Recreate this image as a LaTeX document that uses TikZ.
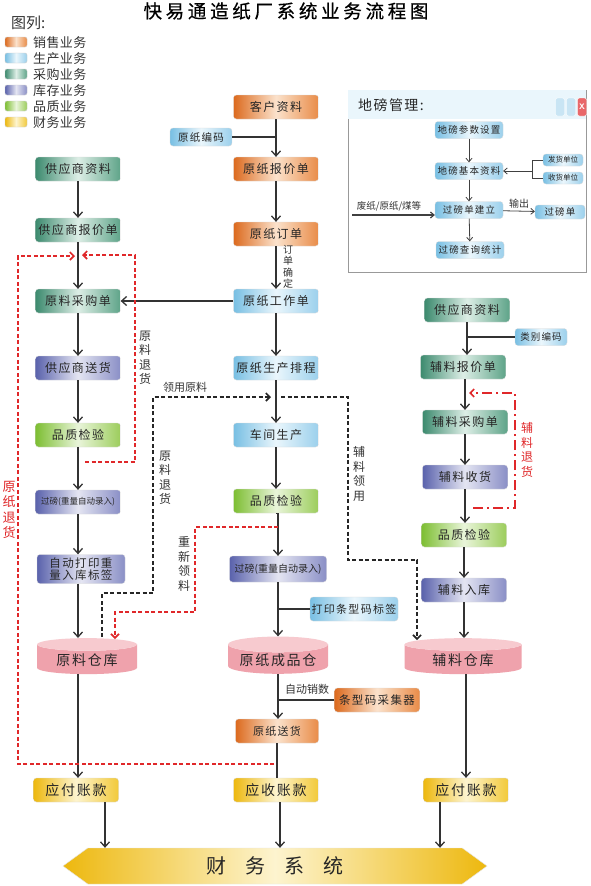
\documentclass[tikz,border=0pt]{standalone}
\usepackage{fontspec}
\newfontfamily\cjk[LetterSpace=12]{Noto Sans CJK SC}
\newfontfamily\cjkn{Noto Sans CJK SC}
\usetikzlibrary{arrows.meta,shapes.geometric,shapes.symbols}
\definecolor{SaleD}{HTML}{DC6A1E}\definecolor{SaleL}{HTML}{FBE2CC}\definecolor{SaleR}{HTML}{E98C48}
\definecolor{ProdD}{HTML}{78BFE3}\definecolor{ProdL}{HTML}{EAF6FC}\definecolor{ProdR}{HTML}{9BD0EC}
\definecolor{PurD}{HTML}{3C8A6E}\definecolor{PurL}{HTML}{DDEEE6}\definecolor{PurR}{HTML}{5FA489}
\definecolor{InvD}{HTML}{5A62AC}\definecolor{InvL}{HTML}{E4E5F2}\definecolor{InvR}{HTML}{8A8FC6}
\definecolor{QuaD}{HTML}{7DBE32}\definecolor{QuaL}{HTML}{E9F5DA}\definecolor{QuaR}{HTML}{9CCD5C}
\definecolor{FinD}{HTML}{EDB80E}\definecolor{FinL}{HTML}{FDF4CF}\definecolor{FinR}{HTML}{F2C93A}
\definecolor{CylB}{HTML}{EFA2AC}\definecolor{CylT}{HTML}{F7CACF}
\definecolor{RedL}{HTML}{E0282A}
\tikzset{
  box/.style={rounded corners=3pt, minimum width=85pt, minimum height=24pt, inner sep=1pt,
    text=black!85, font=\cjk\fontsize{12}{12}\selectfont, draw=black!15, line width=0.3pt},
  sale/.style={box, left color=SaleD, right color=SaleR, middle color=SaleL},
  prod/.style={box, left color=ProdD, right color=ProdR, middle color=ProdL},
  pur/.style={box, left color=PurD, right color=PurR, middle color=PurL},
  inv/.style={box, left color=InvD, right color=InvR, middle color=InvL},
  qua/.style={box, left color=QuaD, right color=QuaR, middle color=QuaL},
  fin/.style={box, left color=FinD, right color=FinR, middle color=FinL, font=\cjk\fontsize{14}{14}\selectfont},
  sm/.style={prod, minimum width=68pt, minimum height=17pt, font=\cjk\fontsize{9.5}{10}\selectfont},
  tiny/.style={prod, minimum width=40pt, minimum height=12pt, font=\cjkn\fontsize{7.5}{8}\selectfont},
  cyl/.style={cylinder, shape border rotate=90, aspect=0.2, minimum width=100pt, minimum height=36pt,
    cylinder uses custom fill, cylinder body fill=CylB, cylinder end fill=CylT, draw=none,
    text=black!85, font=\cjk\fontsize{14}{14}\selectfont, inner sep=1pt},
  swatch/.style={rounded corners=2pt, minimum width=22pt, minimum height=10pt, inner sep=0pt, draw=black!20},
  legtxt/.style={anchor=west, font=\cjkn\fontsize{13}{13}\selectfont\addfontfeatures{LetterSpace=3}, text=black!80, inner sep=0pt},
  vlab/.style={align=center, inner sep=0pt, font=\cjkn\fontsize{12}{14.5}\selectfont, text=black!80},
  lbl/.style={inner sep=0pt, font=\cjkn\fontsize{11}{11}\selectfont, text=black!80},
  arr/.style={draw=black!80, line width=1.3pt, -{Straight Barb[length=5pt,width=9pt]}},
  lin/.style={draw=black!80, line width=1.3pt},
  thin/.style={draw=black!75, line width=0.8pt},
  thinarr/.style={draw=black!75, line width=0.8pt, -{Straight Barb[length=3.5pt,width=6pt]}},
  rdash/.style={draw=RedL, line width=1.6pt, dash pattern=on 4pt off 2.5pt},
  kdash/.style={draw=black!85, line width=1.6pt, dash pattern=on 4pt off 2.5pt},
  rdd/.style={draw=RedL, line width=1.6pt, dash pattern=on 10pt off 4pt on 2pt off 4pt},
  dtip/.style={-{Straight Barb[length=4pt,width=8pt]}}
}
\begin{document}
\begin{tikzpicture}[x=1pt,y=-1pt]
\useasboundingbox (0,0) rectangle (591,886);
\fill[white] (0,0) rectangle (591,886);
% title
\node[inner sep=0pt, font=\cjkn\fontsize{18.5}{18.5}\selectfont\addfontfeatures{LetterSpace=20,FakeBold=0.5}] (title) at (286,11) {快易通造纸厂系统业务流程图};
% legend
\node[anchor=west, inner sep=0pt, font=\cjkn\fontsize{15}{15}\selectfont, text=black!80] (legt) at (11,23) {图列:};
\node[swatch, left color=SaleD, right color=SaleR, middle color=SaleL] (s1) at (16,42) {};
\node[swatch, left color=ProdD, right color=ProdR, middle color=ProdL] (s2) at (16,58) {};
\node[swatch, left color=PurD, right color=PurR, middle color=PurL] (s3) at (16,74) {};
\node[swatch, left color=InvD, right color=InvR, middle color=InvL] (s4) at (16,90) {};
\node[swatch, left color=QuaD, right color=QuaR, middle color=QuaL] (s5) at (16,106) {};
\node[swatch, left color=FinD, right color=FinR, middle color=FinL] (s6) at (16,122) {};
\node[legtxt] (l1) at (33,43) {销售业务};
\node[legtxt] (l2) at (33,59) {生产业务};
\node[legtxt] (l3) at (33,75) {采购业务};
\node[legtxt] (l4) at (33,91) {库存业务};
\node[legtxt] (l5) at (33,107) {品质业务};
\node[legtxt] (l6) at (33,123) {财务业务};

% weighbridge box
\draw[black!40, line width=0.6pt, fill=white] (348,90) rectangle (586,272);
\fill[ProdL] (348.3,90.3) rectangle (585.7,119);
\node[anchor=west, inner sep=0pt, font=\cjkn\fontsize{14}{14}\selectfont\addfontfeatures{LetterSpace=10}, text=black!85] (dbt) at (358,105) {地磅管理:};
\node[rounded corners=2pt, fill=ProdD!40, draw=white, minimum width=9pt, minimum height=18pt, inner sep=0pt] (w1) at (560,107) {};
\node[rounded corners=2pt, fill=ProdD!40, draw=white, minimum width=9pt, minimum height=18pt, inner sep=0pt] (w2) at (571,107) {};
\node[rounded corners=2pt, fill=RedL!70, draw=white, minimum width=9pt, minimum height=18pt, inner sep=0pt, text=white, font=\sffamily\bfseries\fontsize{8}{8}\selectfont] (w3) at (582,107) {X};
\node[sm] (dbcs) at (469,130) {地磅参数设置};
\node[sm] (dbjb) at (469,171) {地磅基本资料};
\node[tiny] (fhdw) at (563,160) {发货单位};
\node[tiny] (shdw) at (563,178) {收货单位};
\node[sm] (gbdjl) at (469,210) {过磅单建立};
\node[sm, minimum width=50pt, minimum height=14pt] (gbd) at (560,212) {过磅单};
\node[sm] (gbcx) at (470,250) {过磅查询统计};
\coordinate (feiz) at (352,215);
\coordinate (brk) at (532,171);
\node[lbl, font=\cjkn\fontsize{9.5}{10}\selectfont] (fzl) at (389,206) {废纸/原纸/煤等};
\node[lbl, font=\cjkn\fontsize{10}{10}\selectfont] (scl) at (519,204) {输出};
\draw[thinarr] (dbcs) -- (dbjb);
\draw[thinarr] (dbjb) -- (gbdjl);
\draw[thinarr] (gbdjl) -- (gbcx);
\draw[thinarr] (gbdjl) -- (gbd);
\draw[thinarr, line width=1.2pt] (feiz) -- (feiz -| gbdjl.west);
\draw[thin] (fhdw.west) -- (brk |- fhdw.west) -- (brk |- shdw.west) -- (shdw.west);
\draw[thinarr] (brk) -- (dbjb.east);

% centre column
\node[sale] (khzl) at (276,107) {客户资料};
\node[prod, minimum width=62pt, minimum height=18pt, font=\cjk\fontsize{10.5}{10.5}\selectfont] (yzbm) at (201,137) {原纸编码};
\node[sale] (yzbjd) at (276,169) {原纸报价单};
\node[sale] (yzdd) at (276,234) {原纸订单};
\node[prod] (yzgzd) at (276,301) {原纸工作单};
\node[prod] (yzpc) at (276,368) {原纸生产排程};
\node[prod] (cjsc) at (276,435) {车间生产};
\node[qua] (pzjy2) at (276,501) {品质检验};
\node[inv, minimum width=97pt, minimum height=26pt, font=\cjkn\fontsize{10}{10}\selectfont] (gb2) at (278,569) {过磅(重量自动录入)};
\node[prod, minimum width=88pt, font=\cjk\fontsize{11}{11}\selectfont] (dytxm) at (354,609) {打印条型码标签};
\node[cyl] (yzcpc) at (278,660) {原纸成品仓};
\node[sale, font=\cjk\fontsize{11.5}{11.5}\selectfont] (txmcjq) at (377,700) {条型码采集器};
\node[sale, minimum width=83pt, font=\cjk\fontsize{11}{11}\selectfont] (yzsh) at (277,731) {原纸送货};
\node[fin] (yszk) at (276,790) {应收账款};
\node[signal, signal to=west and east, signal pointer angle=72, minimum width=424pt, minimum height=36pt, inner sep=0pt,
  left color=FinD, right color=FinD, middle color=FinL, draw=black!10,
  font=\cjkn\fontsize{20}{20}\selectfont\addfontfeatures{LetterSpace=95}, text=black!85] (cwxt) at (275,866) {财务系统\hspace{-19pt}};

% left column
\node[pur] (gyszl1) at (78,169) {供应商资料};
\node[pur] (gysbjd) at (78,230) {供应商报价单};
\node[pur] (ylcgd) at (78,301) {原料采购单};
\node[inv] (gyssh) at (78,368) {供应商送货};
\node[qua] (pzjy1) at (78,435) {品质检验};
\node[inv, font=\cjkn\fontsize{8.5}{8.5}\selectfont] (gb1) at (78,502) {过磅(重量自动录入)};
\node[inv, minimum width=88pt, minimum height=29pt, align=center, font=\cjk\fontsize{11.5}{12.5}\selectfont] (dydy) at (81,569) {自动打印重\\量入库标签};
\node[cyl] (ylck) at (87,660) {原料仓库};
\node[fin] (yfzk1) at (76,790) {应付账款};

% right column
\node[pur] (gyszl2) at (467,310) {供应商资料};
\node[prod, minimum width=52pt, minimum height=17pt, font=\cjk\fontsize{9.5}{9.5}\selectfont] (lbbm) at (541,337) {类别编码};
\node[pur] (flbjd) at (463,367) {辅料报价单};
\node[pur] (flcgd) at (465,422) {辅料采购单};
\node[inv] (flsh) at (465,477) {辅料收货};
\node[qua] (pzjy3) at (464,535) {品质检验};
\node[inv] (flrk) at (464,590) {辅料入库};
\node[cyl, minimum width=117pt] (flck) at (463,660) {辅料仓库};
\node[fin] (yfzk2) at (466,790) {应付账款};

% centre arrows
\draw[arr] (khzl) -- (yzbjd);
\draw[lin] (yzbm.east) -- (yzbm.east -| khzl.south);
\draw[arr] (yzbjd) -- (yzdd);
\draw[arr] (yzdd) -- (yzgzd);
\node[vlab, font=\cjkn\fontsize{10}{11.5}\selectfont] (ddqd) at (288,267) {订\\单\\确\\定};
\draw[arr] (yzgzd) -- (yzpc);
\draw[arr] (yzpc) -- (cjsc);
\draw[arr] (cjsc) -- (pzjy2);
\draw[arr] (pzjy2.south) -- (pzjy2.south -| gb2.north) -- (gb2.north);
\draw[arr] (gb2.south) -- (gb2.south |- yzcpc.north);
\draw[lin] (dytxm.west) -- (dytxm.west -| gb2.south);
\draw[arr] (yzcpc.south) -- (yzcpc.south |- yzsh.north);
\draw[lin] (txmcjq.west) -- (txmcjq.west -| yzcpc.south);
\node[lbl] (zdxs) at (307,689) {自动销数};
\draw[lin] (yzsh.south) -- (yzsh.south |- yszk.north);
\draw[arr] ([xshift=4pt]yszk.south) -- ([xshift=4pt]yszk.south |- cwxt.north);
\draw[arr] (yzgzd.west) -- (ylcgd.east);

% left arrows
\draw[arr] (gyszl1) -- (gysbjd);
\draw[arr] (gysbjd) -- (ylcgd);
\draw[arr] (ylcgd) -- (gyssh);
\draw[arr] (gyssh) -- (pzjy1);
\draw[arr] (pzjy1) -- (gb1);
\draw[arr] (gb1) -- (gb1 |- dydy.north);
\draw[arr] (gb1 |- dydy.south) -- (gb1 |- ylck.north);
\draw[arr] (gb1 |- ylck.south) -- (gb1 |- yfzk1.north);
\draw[arr] ([xshift=29pt]yfzk1.south) -- ([xshift=29pt]yfzk1.south |- cwxt.north);

% right arrows
\draw[arr] (gyszl2.south) -- (gyszl2.south |- flbjd.north);
\draw[lin] (lbbm.west) -- (lbbm.west -| gyszl2.south);
\draw[arr] (flbjd.south -| flcgd) -- (flcgd.north);
\draw[arr] (flcgd) -- (flsh);
\draw[arr] (flsh.south) -- (flsh.south |- pzjy3.north);
\draw[arr] (pzjy3) -- (flrk);
\draw[arr] (flrk.south) -- (flrk.south |- flck.north);
\draw[arr] ([xshift=3pt]flck.south) -- ([xshift=3pt]flck.south |- yfzk2.north);
\draw[arr] ([xshift=-26pt]yfzk2.south) -- ([xshift=-26pt]yfzk2.south |- cwxt.north);

% dashed returns
\coordinate (a1) at (274,764);
\coordinate (a2) at (18,764);
\coordinate (a3) at (18,256);
\coordinate (a4) at (75,256);
\draw[rdash, dtip] (a1) -- (a2) -- (a3) -- (a4);
\node[vlab, text=RedL, font=\cjkn\fontsize{13}{15.5}\selectfont] (yztt) at (9,510) {原\\纸\\退\\货};

\coordinate (b1) at (85,462);
\coordinate (b2) at (135,462);
\coordinate (b3) at (135,255);
\coordinate (b4) at (82,255);
\draw[rdash, dtip] (b1) -- (b2) -- (b3) -- (b4);
\node[vlab] (ylth1) at (145,358) {原\\料\\退\\货};

\coordinate (c1) at (102,637);
\coordinate (c2) at (102,593);
\coordinate (c3) at (153,593);
\coordinate (c4) at (153,397);
\coordinate (c5) at (271,397);
\draw[kdash, dtip] (c1) -- (c2) -- (c3) -- (c4) -- (c5);
\node[lbl] (lyyl) at (185,387) {领用原料};
\node[vlab] (ylth2) at (165,478) {原\\料\\退\\货};

\coordinate (d1) at (281,397);
\coordinate (d2) at (348,397);
\coordinate (d3) at (348,560);
\coordinate (d4) at (417,560);
\coordinate (d5) at (417,640);
\draw[kdash, dtip] (d1) -- (d2) -- (d3) -- (d4) -- (d5);
\node[vlab] (flly) at (359,474) {辅\\料\\领\\用};

\coordinate (e1) at (278,527);
\coordinate (e2) at (195,527);
\coordinate (e3) at (195,612);
\coordinate (e4) at (115,612);
\coordinate (e5) at (115,639);
\draw[rdash, dtip] (e1) -- (e2) -- (e3) -- (e4) -- (e5);
\node[vlab] (cxll) at (184,564) {重\\新\\领\\料};

\coordinate (f1) at (473,508);
\coordinate (f2) at (515,508);
\coordinate (f3) at (515,393);
\coordinate (f4) at (469,393);
\draw[rdd, dtip] (f1) -- (f2) -- (f3) -- (f4);
\node[vlab, text=RedL] (flth) at (527,450) {辅\\料\\退\\货};
\end{tikzpicture}
\end{document}
